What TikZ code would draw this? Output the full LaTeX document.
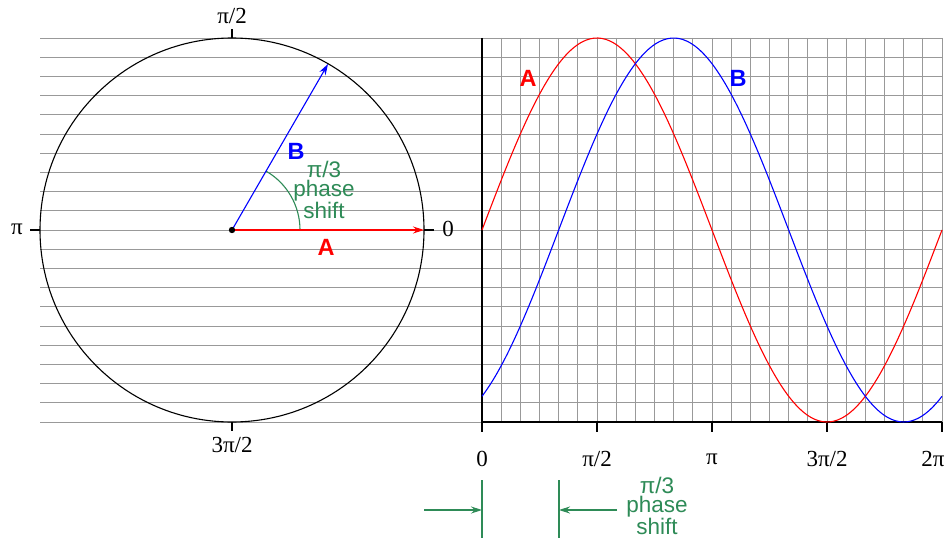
\documentclass[tikz,border=0pt]{standalone}
\usepackage{fontspec}
\setmainfont{Liberation Serif}
\setsansfont{Liberation Sans}
\usetikzlibrary{arrows.meta,calc}
\definecolor{gr}{HTML}{2E8B57}
\tikzset{
  gridline/.style={draw=black!40,line width=0.9pt},
  axisline/.style={draw=black,line width=1.1pt},
  lbl/.style={font=\fontsize{23}{23}\selectfont,inner sep=0pt},
  bigl/.style={font=\fontsize{23.5}{23.5}\selectfont\sffamily\bfseries,inner sep=0pt},
  greentxt/.style={font=\fontsize{22.5}{19}\selectfont\sffamily,text=gr,align=center,inner sep=0pt},
  phasor/.style={line width=1.1pt,-{Stealth[length=11pt,width=7pt]}},
  garrow/.style={draw=gr,line width=1.1pt,-{Stealth[length=11pt,width=7pt]}}
}
\begin{document}
\begin{tikzpicture}[x=1pt,y=-1pt]
\useasboundingbox (0,0) rectangle (952,540);
\fill[white] (0,0) rectangle (952,540);
% horizontal grid lines
\foreach \k in {0,...,20} {
  \draw[gridline] (40,{38+19.2*\k}) -- (942,{38+19.2*\k});
}
% vertical grid lines
\foreach \k in {1,...,24} {
  \draw[gridline] ({482+19.16667*\k},38) -- ({482+19.16667*\k},422);
}
% circle
\coordinate (O) at (232,230);
\draw[line width=1.1pt] (O) circle[radius=192];
% ticks on circle
\coordinate (Ttop) at (232,38);
\coordinate (Ttop2) at (232,29);
\coordinate (Tleft) at (40,230);
\coordinate (Tleft2) at (30,230);
\coordinate (Tright) at (424,230);
\coordinate (Tright2) at (434,230);
\coordinate (Tbot) at (232,422);
\coordinate (Tbot2) at (232,431);
\draw[line width=1.1pt] (Ttop) -- (Ttop2);
\draw[line width=1.1pt] (Tleft) -- (Tleft2);
\draw[line width=1.1pt] (Tright) -- (Tright2);
\draw[line width=1.1pt] (Tbot) -- (Tbot2);
\node[lbl] (lpi2) at (232,16) {π/2};
\node[lbl] (lpi) at (17,229) {π};
\node[lbl] (lzero) at (448,229) {0};
\node[lbl] (l3pi2) at (232,445) {3π/2};
% phasors
\coordinate (Atip) at (424,230);
\coordinate (Btip) at (328,64);
\draw[draw=gr,line width=1.1pt] (300,230) arc[start angle=0,end angle=-60,radius=68];
\draw[phasor,red] (O) -- (Atip);
\draw[phasor,blue] (O) -- (Btip);
\fill[black] (O) circle[radius=3.2];
\node[bigl,text=red] (Alab) at (326,247) {A};
\node[bigl,text=blue] (Blab) at (296,151) {B};
\node[greentxt] (ps1) at (324,190) {π/3\\phase\\shift};
% graph axes
\coordinate (G0) at (482,422);
\coordinate (Gtop) at (482,38);
\coordinate (Gend) at (942,422);
\draw[axisline] (Gtop) -- (G0) -- (Gend);
\foreach \k/\t in {0/0,1/{π/2},2/π,3/{3π/2}} {
  \draw[axisline] ({482+115*\k},422) -- ({482+115*\k},432);
  \node[lbl] at ({482+115*\k},459) {\t};
}
\draw[axisline] (942,422) -- (942,432);
\node[lbl] (l2pi) at (933,459) {2π};
% waves
\draw[red,line width=1.1pt] plot[domain=0:360,samples=120,smooth] ({482+1.277778*\x},{230-192*sin(\x)});
\draw[blue,line width=1.1pt] plot[domain=0:360,samples=120,smooth] ({482+1.277778*\x},{230-192*sin(\x-60)});
\node[bigl,text=red] (gA) at (528,78) {A};
\node[bigl,text=blue] (gB) at (738,78) {B};
% phase shift markers
\coordinate (m1t) at (482,480);
\coordinate (m1b) at (482,538);
\coordinate (m2t) at (559,480);
\coordinate (m2b) at (559,538);
\coordinate (a1s) at (424,510);
\coordinate (a1e) at (482,510);
\coordinate (a2s) at (617,510);
\coordinate (a2e) at (559,510);
\draw[draw=gr,line width=1.1pt] (m1t) -- (m1b);
\draw[draw=gr,line width=1.1pt] (m2t) -- (m2b);
\draw[garrow] (a1s) -- (a1e);
\draw[garrow] (a2s) -- (a2e);
\node[greentxt] (ps2) at (657,506) {π/3\\phase\\shift};
\end{tikzpicture}
\end{document}
